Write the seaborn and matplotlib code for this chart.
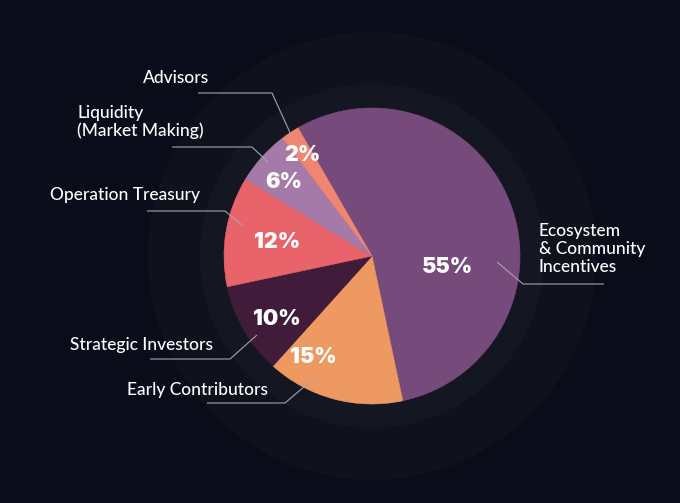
import matplotlib.pyplot as plt
import seaborn as sns
import numpy as np

# %% data
labels = ["Ecosystem\n& Community\nIncentives", "Early Contributors", "Strategic Investors",
          "Operation Treasury", "Liquidity\n(Market Making)", "Advisors"]
shares = [55, 15, 10, 12, 6, 2]
colors = ["#774a7c", "#ee9961", "#411c3a", "#e9646a", "#a67aa8", "#ee8672"]

# %% layout (pixel positions in the 680x503 picture)
W, H = 680, 503
CX, CY, R = 372, 256, 148

pct_pos = [(447, 267), (313, 357), (277, 319), (277, 242), (284, 182), (302, 155)]
label_pos = [(539, 249, 'left'), (268, 390, 'right'), (213, 345, 'right'),
             (200, 195, 'right'), (77, 122, 'left'), (209, 78, 'right')]
leaders = [[(604, 284), (523, 284), (497, 262)],
           [(207, 403), (285, 403), (312, 380)],
           [(150, 359), (230, 359), (257, 335)],
           [(147, 211), (225, 211), (242, 225)],
           [(172, 147), (252, 147), (268, 162)],
           [(198, 93), (272, 93), (292, 137)]]


def px(x, y):
    return (x - CX) / R, (CY - y) / R


bg = "#0a0c19"
sns.set_style("dark", {"axes.facecolor": bg, "figure.facecolor": bg})
plt.rcParams['font.family'] = ['Lato', 'DejaVu Sans']

fig = plt.figure(figsize=(W / 100, H / 100), dpi=100)
ax = fig.add_axes([0, 0, 1, 1])

# background rings
ax.add_patch(plt.Circle((0, 0), 224 / R, color="#0f111d", zorder=0, lw=0))
ax.add_patch(plt.Circle((0, 0), 172 / R, color="#141621", zorder=0, lw=0))

wedges, _ = ax.pie(shares, colors=colors, startangle=120, counterclock=False, radius=1,
                   wedgeprops=dict(linewidth=0.4))
for w, c in zip(wedges, colors):
    w.set_edgecolor(c)

for v, (x, y) in zip(shares, pct_pos):
    ax.text(*px(x, y), f"{v}%", color="white", fontsize=15.5, fontweight='black',
            family=['Inter', 'Roboto', 'Lato'], ha='center', va='center')

for lab, (x, y, ha) in zip(labels, label_pos):
    ax.text(*px(x, y), lab, color="white", fontsize=12.5, fontweight='medium',
            ha=ha, va='center', linespacing=1.15)

for pts in leaders:
    xs, ys = zip(*[px(x, y) for x, y in pts])
    ax.plot(xs, ys, color="#a3a4b2", lw=0.8, solid_capstyle='butt')

ax.set_xlim(-CX / R, (W - CX) / R)
ax.set_ylim(-(H - CY) / R, CY / R)
ax.set_aspect('auto')
ax.axis('off')

plt.savefig("out.png", dpi=100, facecolor=bg)
